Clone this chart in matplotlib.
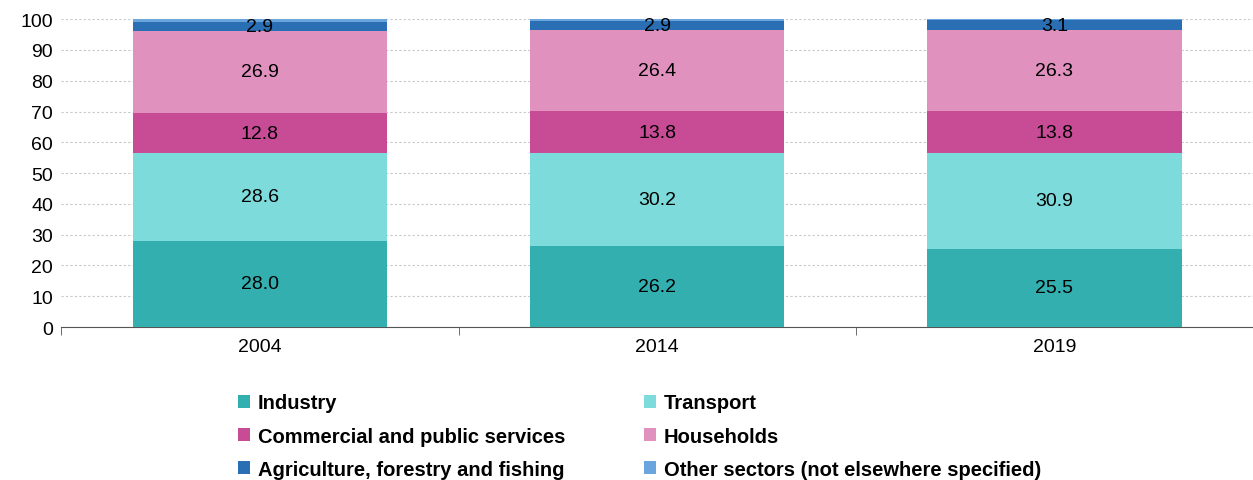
import numpy as np
import matplotlib
matplotlib.use("Agg")
import matplotlib.pyplot as plt
from matplotlib.ticker import MultipleLocator, FixedLocator

plt.rcParams['font.family'] = ['Liberation Sans', 'DejaVu Sans']

years = ["2004", "2014", "2019"]
sectors = ["Industry", "Transport", "Commercial and public services", "Households",
           "Agriculture, forestry and fishing", "Other sectors (not elsewhere specified)"]
industry = [28.0, 26.2, 25.5]
transport = [28.6, 30.2, 30.9]
commercial = [12.8, 13.8, 13.8]
households = [26.9, 26.4, 26.3]
agriculture = [2.9, 2.9, 3.1]
other = [0.8, 0.5, 0.4]

colors = ["#33afaf", "#7ddbdb", "#c84b96", "#e091be", "#2a6eb4", "#6aa5de"]
series = [industry, transport, commercial, households, agriculture, other]
labelled = [True, True, True, True, True, False]

fig = plt.figure(figsize=(12.53, 4.81), dpi=100)
ax = fig.add_axes([0.049, 0.318, 0.951, 0.64])

x = np.arange(len(years))
bottom = np.zeros(len(years))
for name, vals, col, lab in zip(sectors, series, colors, labelled):
    vals = np.array(vals)
    ax.bar(x, vals, 0.64, bottom=bottom, color=col, label=name, zorder=3)
    if lab:
        for xi, b, v in zip(x, bottom, vals):
            ax.text(xi, b + v / 2, f"{v:.1f}", ha="center", va="center",
                    fontsize=14, color="black", zorder=4)
    bottom += vals

ax.set_xlim(-0.5, 2.5)
ax.set_ylim(0, 100)
ax.yaxis.set_major_locator(MultipleLocator(10))
ax.grid(axis="y", color="#c8c8c8", linestyle=(0, (2, 2)), linewidth=0.8, zorder=0)
ax.set_xticks(x)
ax.set_xticklabels(years)
ax.xaxis.set_minor_locator(FixedLocator([-0.5, 0.5, 1.5, 2.5]))
ax.tick_params(axis="x", which="major", length=0, labelsize=14, pad=8)
ax.tick_params(axis="x", which="minor", length=6, color="#555555")
ax.tick_params(axis="y", length=0, labelsize=14, pad=6)
for s in ["top", "right", "left"]:
    ax.spines[s].set_visible(False)
ax.spines["bottom"].set_color("#555555")

# legend is filled row by row in the reference
handles, labels = ax.get_legend_handles_labels()
order = [0, 2, 4, 1, 3, 5]
leg = fig.legend([handles[i] for i in order], [labels[i] for i in order],
                 loc="upper left", bbox_to_anchor=(0.1754, 0.218),
                 ncol=2, frameon=False, prop={"weight": "bold", "size": 14.5},
                 handlelength=0.6, handleheight=0.6, handletextpad=0.4,
                 columnspacing=3.9, labelspacing=0.71)

fig.savefig("out.png", dpi=100)
